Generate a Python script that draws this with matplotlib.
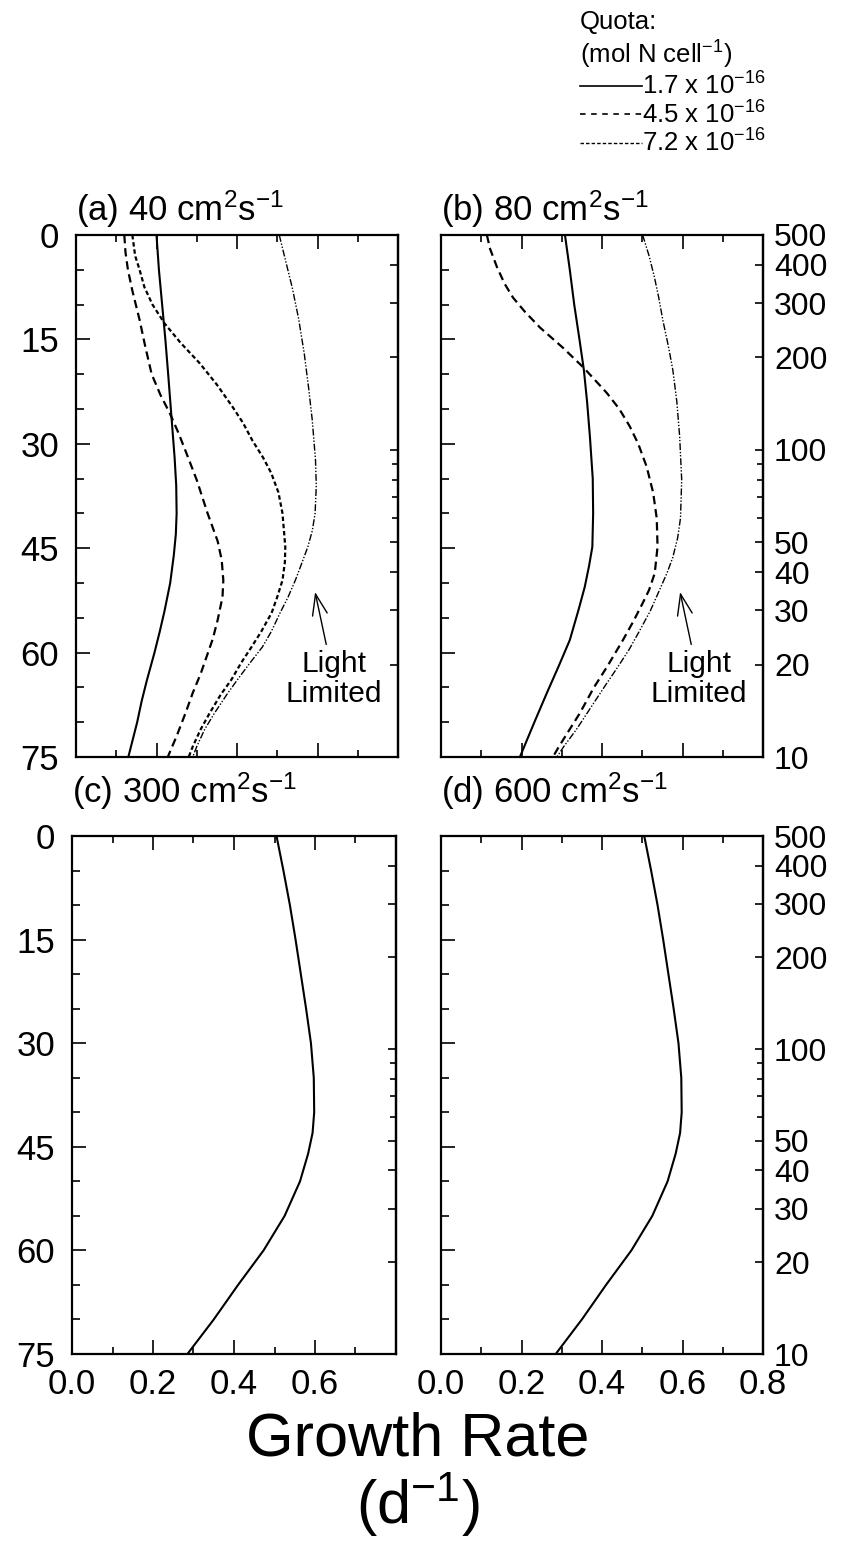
import numpy as np
import matplotlib
matplotlib.use("Agg")
import matplotlib.pyplot as plt
from matplotlib.lines import Line2D

plt.rcParams['font.family'] = ['Liberation Sans', 'DejaVu Sans']
plt.rcParams['mathtext.fontset'] = 'custom'
plt.rcParams['mathtext.rm'] = 'Liberation Sans'
plt.rcParams['mathtext.it'] = 'Liberation Sans:italic'
plt.rcParams['lines.scale_dashes'] = False

# ---- data (depth in m, growth rate in d^-1) ----
# (a) 40 cm2/s
a_q17_depth = [0, 5, 10, 15, 20, 26, 32, 36, 40, 43, 46, 50, 54, 57, 60, 64, 67, 70, 75]
a_q17_rate = [0.20, 0.206, 0.214, 0.222, 0.229, 0.237, 0.245, 0.249, 0.25, 0.248, 0.243,
              0.234, 0.22, 0.208, 0.195, 0.176, 0.163, 0.152, 0.13]
a_q45_depth = [0, 2.5, 5, 8, 12.2, 16, 20, 23, 25.6, 28.5, 31.3, 35.2, 40, 44, 46.7, 49.6,
               52, 55.3, 58, 60, 63, 65.8, 68.7, 72, 75]
a_q45_rate = [0.12, 0.123, 0.129, 0.14, 0.158, 0.172, 0.188, 0.21, 0.233, 0.255, 0.274, 0.30,
              0.327, 0.352, 0.362, 0.366, 0.364, 0.352, 0.34, 0.328, 0.31, 0.29, 0.272, 0.25, 0.228]
a_q72_depth = [0, 3, 5, 7.5, 10, 12.7, 15.5, 18.4, 21.5, 24.7, 27, 29.5, 32, 34.2, 37, 40,
               44.8, 47, 49.6, 52, 54.3, 57, 59.2, 61.5, 63.9, 66, 68.7, 71, 73.5, 75]
a_q72_rate = [0.14, 0.147, 0.158, 0.17, 0.19, 0.22, 0.26, 0.307, 0.35, 0.389, 0.415, 0.438,
              0.465, 0.485, 0.503, 0.513, 0.52, 0.519, 0.513, 0.50, 0.486, 0.46, 0.436, 0.41,
              0.386, 0.36, 0.332, 0.31, 0.29, 0.28]
a_light_depth = [0, 4, 7.5, 12, 17, 22, 26.6, 32.3, 36, 40, 42.5, 44.8, 47, 49.6, 52, 54.3,
                 57, 59.2, 61.5, 63.9, 66, 68.7, 71, 73.5, 75]
a_light_rate = [0.505, 0.522, 0.537, 0.553, 0.567, 0.578, 0.587, 0.595, 0.597, 0.594, 0.587,
                0.576, 0.562, 0.545, 0.527, 0.507, 0.485, 0.463, 0.432, 0.401, 0.375, 0.344,
                0.32, 0.30, 0.29]

# (b) 80 cm2/s
b_q17_depth = [0, 5, 10, 15, 19.4, 24, 29, 35, 40, 44.8, 47.5, 50.6, 54, 58.2, 62, 65.8, 70, 75]
b_q17_rate = [0.308, 0.32, 0.331, 0.344, 0.355, 0.363, 0.37, 0.377, 0.378, 0.376, 0.368,
              0.357, 0.341, 0.32, 0.292, 0.263, 0.232, 0.196]
b_q45_depth = [0, 2, 4.6, 7, 9, 11, 13.3, 16.2, 19.1, 22.7, 25, 27.5, 30, 33.3, 37, 40.7,
               44.8, 48.6, 51, 52.9, 55.5, 58.2, 62, 65, 68.7, 71, 73.5, 75]
b_q45_rate = [0.114, 0.122, 0.139, 0.158, 0.179, 0.208, 0.246, 0.303, 0.355, 0.412, 0.443,
              0.469, 0.49, 0.511, 0.527, 0.536, 0.538, 0.531, 0.517, 0.501, 0.478, 0.452,
              0.413, 0.38, 0.345, 0.32, 0.293, 0.278]
b_light_depth = [0, 3, 6, 9, 12.2, 16, 19.4, 24, 29, 35.2, 40.7, 43.5, 46.3, 48.5, 51, 54,
                 56.8, 59.5, 62, 65, 68.7, 71, 73.5, 75]
b_light_rate = [0.501, 0.517, 0.53, 0.541, 0.551, 0.565, 0.576, 0.586, 0.593, 0.598, 0.595,
                0.588, 0.576, 0.562, 0.543, 0.52, 0.494, 0.468, 0.44, 0.405, 0.363, 0.337,
                0.305, 0.288]

# (c) 300 and (d) 600 cm2/s
cd_depth = [0, 5, 10, 15, 20, 25, 30, 35, 40, 43, 46, 50, 55, 60, 65, 70, 75]
cd_rate = [0.505, 0.522, 0.538, 0.552, 0.565, 0.578, 0.59, 0.597, 0.598, 0.594, 0.583,
           0.563, 0.525, 0.473, 0.41, 0.35, 0.285]

titles = [r"(a) 40 cm$^2$s$^{-1}$", r"(b) 80 cm$^2$s$^{-1}$",
          r"(c) 300 cm$^2$s$^{-1}$", r"(d) 600 cm$^2$s$^{-1}$"]
quota_labels = [r"1.7 x 10$^{-16}$", r"4.5 x 10$^{-16}$", r"7.2 x 10$^{-16}$"]

light_major = [500, 400, 300, 200, 100, 50, 40, 30, 20, 10]
light_minor = [90, 80, 70, 60]
depth_major = [0, 15, 30, 45, 60, 75]

# light scale on the right axis: 500 at surface, 10 at 75 m
K_ATT = np.log(500 / 10) / 75.0


def depth_to_light(z):
    return 500.0 * np.exp(-K_ATT * np.asarray(z, dtype=float))


def light_to_depth(i):
    i = np.clip(np.asarray(i, dtype=float), 1e-6, None)
    return np.log(500.0 / i) / K_ATT


LS_45 = (0, (6, 3.5))
LS_72 = (0, (3.2, 2.0))
LS_LIGHT = (0, (5, 1.3, 1, 1.3, 1, 1.3))

W, H = 851, 1554
fig = plt.figure(figsize=(W / 100, H / 100), dpi=100)

boxes = [(76, 235, 322, 522), (441, 235, 322, 522),
         (72, 836, 324, 518), (441, 836, 322, 518)]
axes = []
for (x0, y0, w, h) in boxes:
    axes.append(fig.add_axes([x0 / W, 1 - (y0 + h) / H, w / W, h / H]))

ax_a, ax_b, ax_c, ax_d = axes

ax_a.plot(a_q17_rate, a_q17_depth, color='black', lw=1.5)
ax_a.plot(a_q45_rate, a_q45_depth, color='black', lw=1.6, linestyle=LS_45)
ax_a.plot(a_q72_rate, a_q72_depth, color='black', lw=1.6, linestyle=LS_72)
ax_a.plot(a_light_rate, a_light_depth, color='black', lw=1.0, linestyle=LS_LIGHT)

ax_b.plot(b_q17_rate, b_q17_depth, color='black', lw=1.5)
ax_b.plot(b_q45_rate, b_q45_depth, color='black', lw=1.6, linestyle=LS_45)
ax_b.plot(b_light_rate, b_light_depth, color='black', lw=1.0, linestyle=LS_LIGHT)

ax_c.plot(cd_rate, cd_depth, color='black', lw=1.5)
ax_d.plot(cd_rate, cd_depth, color='black', lw=1.5)

for i, ax in enumerate(axes):
    ax.set_xlim(0, 0.8)
    ax.set_ylim(75, 0)
    for sp in ax.spines.values():
        sp.set_linewidth(1.6)
    ax.set_xticks([0, 0.2, 0.4, 0.6, 0.8])
    ax.set_xticks([0.1, 0.3, 0.5, 0.7], minor=True)
    ax.set_yticks(depth_major)
    ax.set_yticks(np.arange(0, 76, 5), minor=True)
    ax.tick_params(which='both', direction='in', top=True, bottom=True,
                   left=True, right=False, width=1.2, labelsize=25)
    ax.tick_params(axis='x', which='major', length=10, pad=10)
    ax.tick_params(axis='x', which='minor', length=5)
    ax.tick_params(axis='y', which='major', length=10, pad=12)
    ax.tick_params(axis='y', which='minor', length=6)
    ax.set_xticklabels(["0.0", "0.2", "0.4", "0.6", "0.8"])
    if i in (1, 3):
        ax.tick_params(labelleft=False)
    if i in (0, 1):
        ax.tick_params(labelbottom=False)
    if i == 2:
        ax.set_xticklabels(["0.0", "0.2", "0.4", "0.6", ""])
    ax.set_title(titles[i], loc='left', fontsize=25, pad=10 if i < 2 else 24)

    sec = ax.secondary_yaxis('right', functions=(depth_to_light, light_to_depth))
    sec.spines['right'].set_linewidth(1.6)
    sec.set_yticks(light_major)
    sec.set_yticks(light_minor, minor=True)
    sec.set_yticklabels([str(v) for v in light_major])
    sec.tick_params(which='major', direction='in', length=6, width=1.2,
                    labelsize=23, pad=8)
    sec.tick_params(which='minor', direction='in', length=4, width=1.2)
    if i in (0, 2):
        sec.tick_params(labelright=False)

for ax in (ax_a, ax_b):
    ax.annotate("Light\nLimited", xy=(0.594, 51.3), xytext=(0.64, 63.8),
                ha='center', va='center', fontsize=21.5, linespacing=1.1,
                arrowprops=dict(arrowstyle='->,head_length=0.7,head_width=0.25',
                                lw=1.0, color='black', shrinkA=2, shrinkB=0))

handles = [Line2D([], [], color='black', lw=1.2),
           Line2D([], [], color='black', lw=1.2, linestyle=(0, (4, 4))),
           Line2D([], [], color='black', lw=1.0, linestyle=(0, (2.5, 1.5)))]
fig.legend(handles, quota_labels, title="Quota:\n(mol N cell$^{-1}$)",
           loc='upper left', bbox_to_anchor=(580 / W, 1 - 10 / H),
           frameon=False, fontsize=18.5, title_fontsize=18.5, handlelength=2.4,
           handletextpad=0.0, labelspacing=0.05, borderpad=0,
           borderaxespad=0, alignment='left')

fig.text(418 / W, 1 - 1440 / H, "Growth Rate", ha='center', va='center', fontsize=44)
fig.text(418 / W, 1 - 1505 / H, r"(d$^{-1}$)", ha='center', va='center', fontsize=44)

fig.savefig("out.png", dpi=100)
